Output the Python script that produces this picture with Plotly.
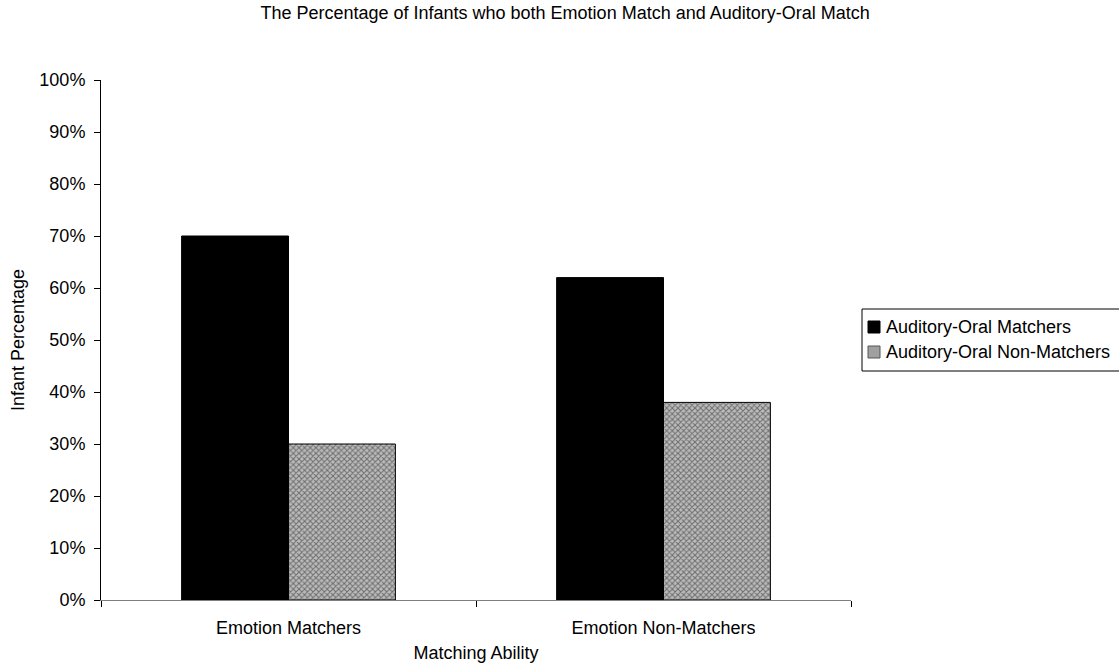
import plotly.graph_objects as go

categories = ["Emotion Matchers", "Emotion Non-Matchers"]
matchers = [0.70, 0.62]
non_matchers = [0.30, 0.38]
series_names = ["Auditory-Oral Matchers", "Auditory-Oral Non-Matchers"]
y_ticks = [0, 0.1, 0.2, 0.3, 0.4, 0.5, 0.6, 0.7, 0.8, 0.9, 1.0]

family = "Liberation Sans, Arial, sans-serif"
font = dict(family=family, size=18, color="black")

PLOT_L, PLOT_R, PLOT_T, PLOT_B = 101, 851, 80, 600
W, H = 1119, 669


def px_x(x):
    return (x - PLOT_L) / (PLOT_R - PLOT_L)


def px_y(y):
    return (PLOT_B - y) / (PLOT_B - PLOT_T)


fig = go.Figure()
fig.add_trace(go.Bar(
    x=categories, y=matchers, name=series_names[0],
    marker=dict(color="black", line=dict(color="black", width=1)),
))
fig.add_trace(go.Bar(
    x=categories, y=non_matchers, name=series_names[1],
    marker=dict(
        color="#aaaaaa",
        line=dict(color="black", width=1),
        pattern=dict(shape="x", fgcolor="#6e6e6e", bgcolor="#bcbcbc",
                     size=4, solidity=0.45, fillmode="replace"),
    ),
))

# Legend box with compact swatches
shapes = [
    dict(type="rect", xref="paper", yref="paper",
         x0=px_x(862), x1=px_x(1125), y0=px_y(371), y1=px_y(309),
         line=dict(color="black", width=1), fillcolor="white", layer="above"),
    dict(type="rect", xref="paper", yref="paper",
         x0=px_x(868), x1=px_x(880), y0=px_y(333), y1=px_y(321),
         line=dict(color="black", width=1), fillcolor="black", layer="above"),
    dict(type="rect", xref="paper", yref="paper",
         x0=px_x(868), x1=px_x(880), y0=px_y(358), y1=px_y(346),
         line=dict(color="#555555", width=1), fillcolor="#a0a0a0", layer="above"),
]
annotations = [
    dict(text=series_names[0], xref="paper", yref="paper",
         x=px_x(884), y=px_y(327), xanchor="left", yanchor="middle",
         showarrow=False, font=dict(family=family, size=18, color="black")),
    dict(text=series_names[1], xref="paper", yref="paper",
         x=px_x(884), y=px_y(352), xanchor="left", yanchor="middle",
         showarrow=False, font=dict(family=family, size=18, color="black")),
]

fig.update_layout(
    width=W, height=H,
    margin=dict(l=PLOT_L, r=W - PLOT_R, t=PLOT_T, b=H - PLOT_B, autoexpand=False),
    paper_bgcolor="white", plot_bgcolor="white",
    font=font,
    barmode="group", bargap=0.43, bargroupgap=0,
    title=dict(text="The Percentage of Infants who both Emotion Match and Auditory-Oral Match",
               x=0.505, xref="container", xanchor="center", y=0.99, yanchor="top",
               font=dict(family=family, size=18, color="black")),
    showlegend=False,
    shapes=shapes,
    annotations=annotations,
    xaxis=dict(
        showline=True, linecolor="#7f7f7f", linewidth=1,
        ticks="outside", ticklen=6, tickcolor="black", tickson="boundaries",
        ticklabelstandoff=11,
        title=dict(text="Matching Ability", standoff=9,
                   font=dict(family=family, size=18)),
        tickfont=dict(family=family, size=18),
    ),
    yaxis=dict(
        range=[0, 1.0], tickvals=y_ticks, tickformat=".0%",
        showline=True, linecolor="black", linewidth=1,
        ticks="outside", ticklen=6, tickcolor="black",
        ticklabelstandoff=5,
        showgrid=False, zeroline=False,
        title=dict(text="Infant Percentage", standoff=10,
                   font=dict(family=family, size=18)),
        tickfont=dict(family=family, size=18),
    ),
)

fig.write_html("out.html")
